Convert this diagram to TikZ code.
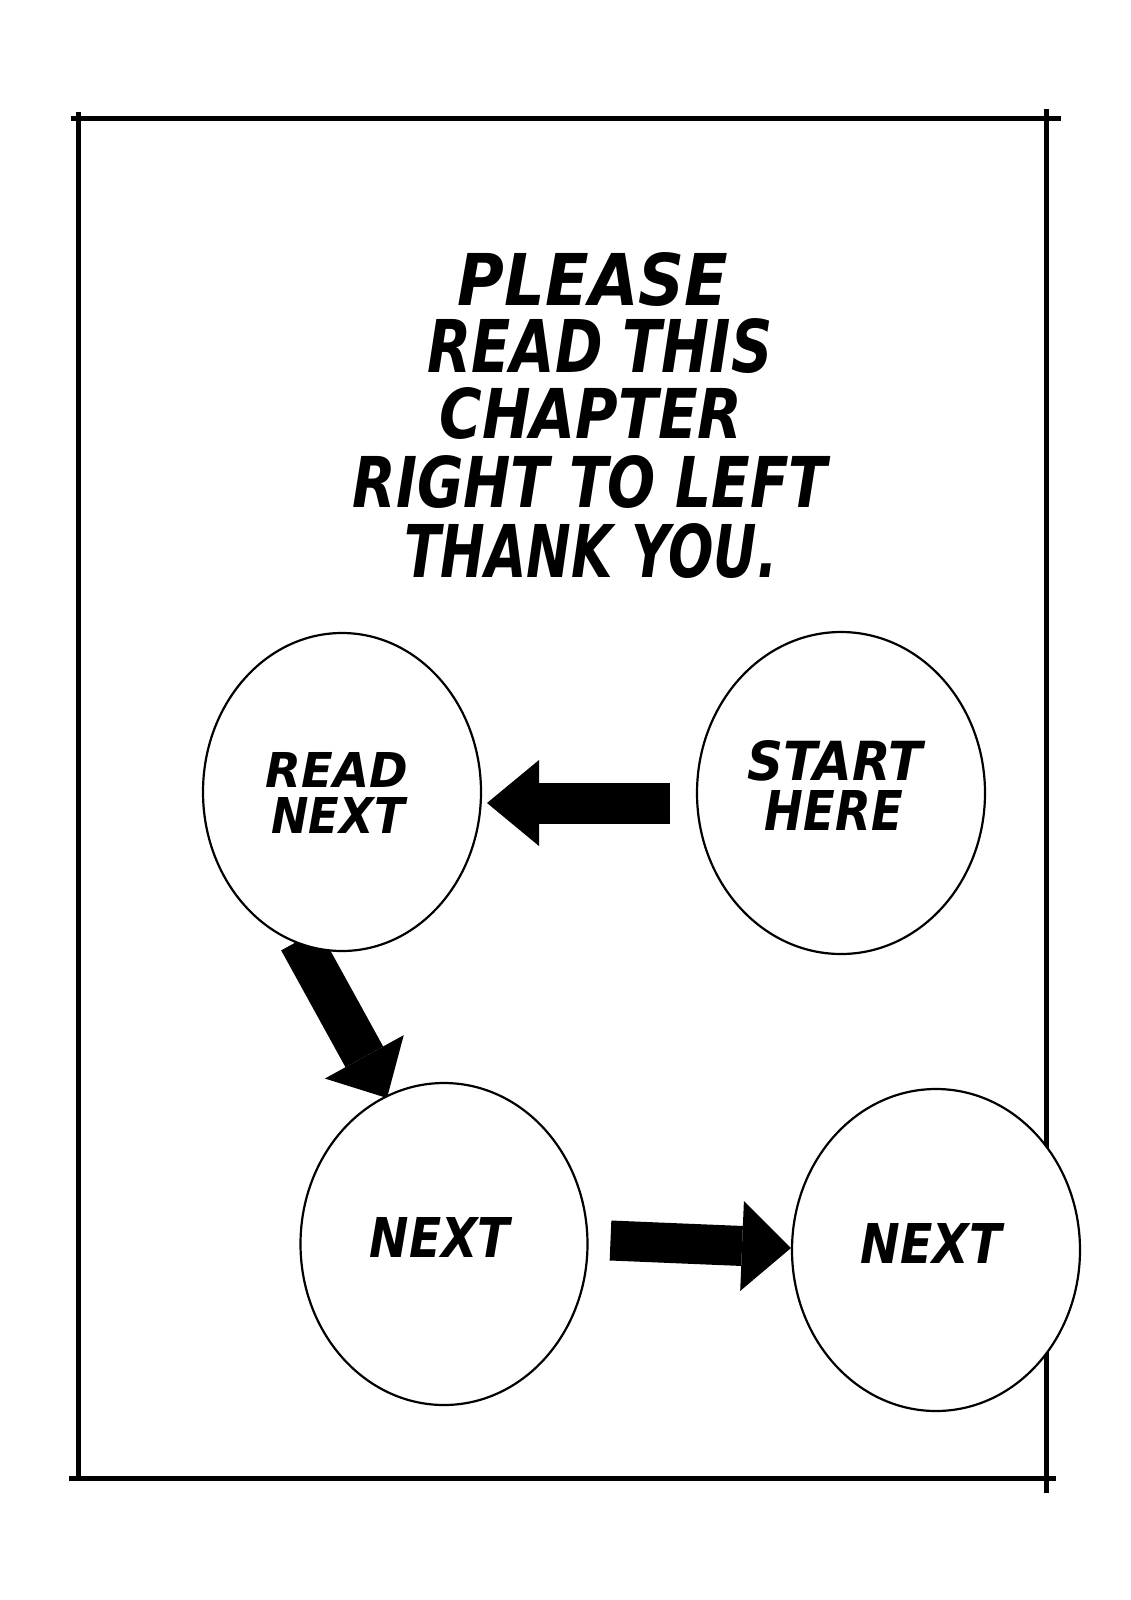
\documentclass[tikz,border=0pt]{standalone}
\usepackage{fontspec}
\usepackage{graphicx}
\newfontfamily\comicfont{DejaVu Sans}
\usetikzlibrary{arrows.meta,shapes.geometric,calc}
\pgfdeclarelayer{back}
\pgfsetlayers{back,main}
\newcommand\fitted[3]{\resizebox{#1pt}{#2pt}{\comicfont\bfseries\itshape #3}}
\begin{document}
\begin{tikzpicture}[x=1pt,y=-1pt,
  frameline/.style={line width=5pt, line cap=rect},
  bubble/.style={ellipse, draw=black, line width=2.2pt, fill=white, inner sep=0pt, outer sep=0pt},
  lbl/.style={inner sep=0pt, outer sep=0pt, anchor=base},
  blockarrow/.style={line width=#1, draw=black}
]
\useasboundingbox (0,0) rectangle (1130,1600);

% frame corners
\coordinate (tl) at (73,119);
\coordinate (tr) at (1058,119);
\coordinate (lt) at (78,115);
\coordinate (lb) at (78,1474);
\coordinate (bl) at (71,1478);
\coordinate (br) at (1053,1478);
\coordinate (rt) at (1046,112);
\coordinate (rb) at (1046,1490);

% bubbles
\node[bubble, minimum width=278, minimum height=318] (readnext) at (342,792) {};
\node[bubble, minimum width=288, minimum height=322] (start) at (841,793) {};
\node[bubble, minimum width=287, minimum height=322] (nextA) at (444,1244) {};
\node[bubble, minimum width=288, minimum height=322] (nextB) at (936,1250) {};

% bubble labels
\node[lbl] (lread) at (337,787) {\fitted{142}{35}{READ}};
\node[lbl] (lnext) at (338,833) {\fitted{133}{36}{NEXT}};
\node[lbl] (lstart) at (835,780) {\fitted{175}{40}{START}};
\node[lbl] (lhere) at (834,830) {\fitted{138}{40}{HERE}};
\node[lbl] (lnextA) at (440,1257) {\fitted{140}{40}{NEXT}};
\node[lbl] (lnextB) at (931,1263) {\fitted{141}{40}{NEXT}};

% title
\node[lbl] (t1) at (593,305) {\fitted{270}{53}{PLEASE}};
\node[lbl] (t2) at (600,372) {\fitted{345}{54}{READ THIS}};
\node[lbl] (t3) at (591,438) {\fitted{303}{51}{CHAPTER}};
\node[lbl] (t4) at (590,507) {\fitted{475}{52}{RIGHT TO LEFT}};
\node[lbl] (t5) at (591,577) {\fitted{373}{54}{THANK YOU.}};

\begin{pgfonlayer}{back}
  \fill[white] (0,0) rectangle (1130,1600);
  \draw[frameline] (tl) -- (tr);
  \draw[frameline] (lt) -- (lb);
  \draw[frameline] (bl) -- (br);
  \draw[frameline] (rt) -- (rb);

  \draw[blockarrow=41pt, -{Triangle[length=52pt,width=86pt,line width=0pt]}]
    ($(start.west)+(-27,10)$) -- ($(readnext.east)+(6,11)$);
  \draw[blockarrow=43pt, -{Triangle[length=47pt,width=90pt,line width=0pt]}]
    ($(readnext.center)+(-42,148)$) -- ($(nextA.center)+(-57,-146)$);
  \draw[blockarrow=40pt, -{Triangle[length=49pt,width=90pt,line width=0pt]}]
    ($(nextA.east)+(23,-3.5)$) -- ($(nextB.west)+(-1,-2)$);
\end{pgfonlayer}
\end{tikzpicture}
\end{document}
